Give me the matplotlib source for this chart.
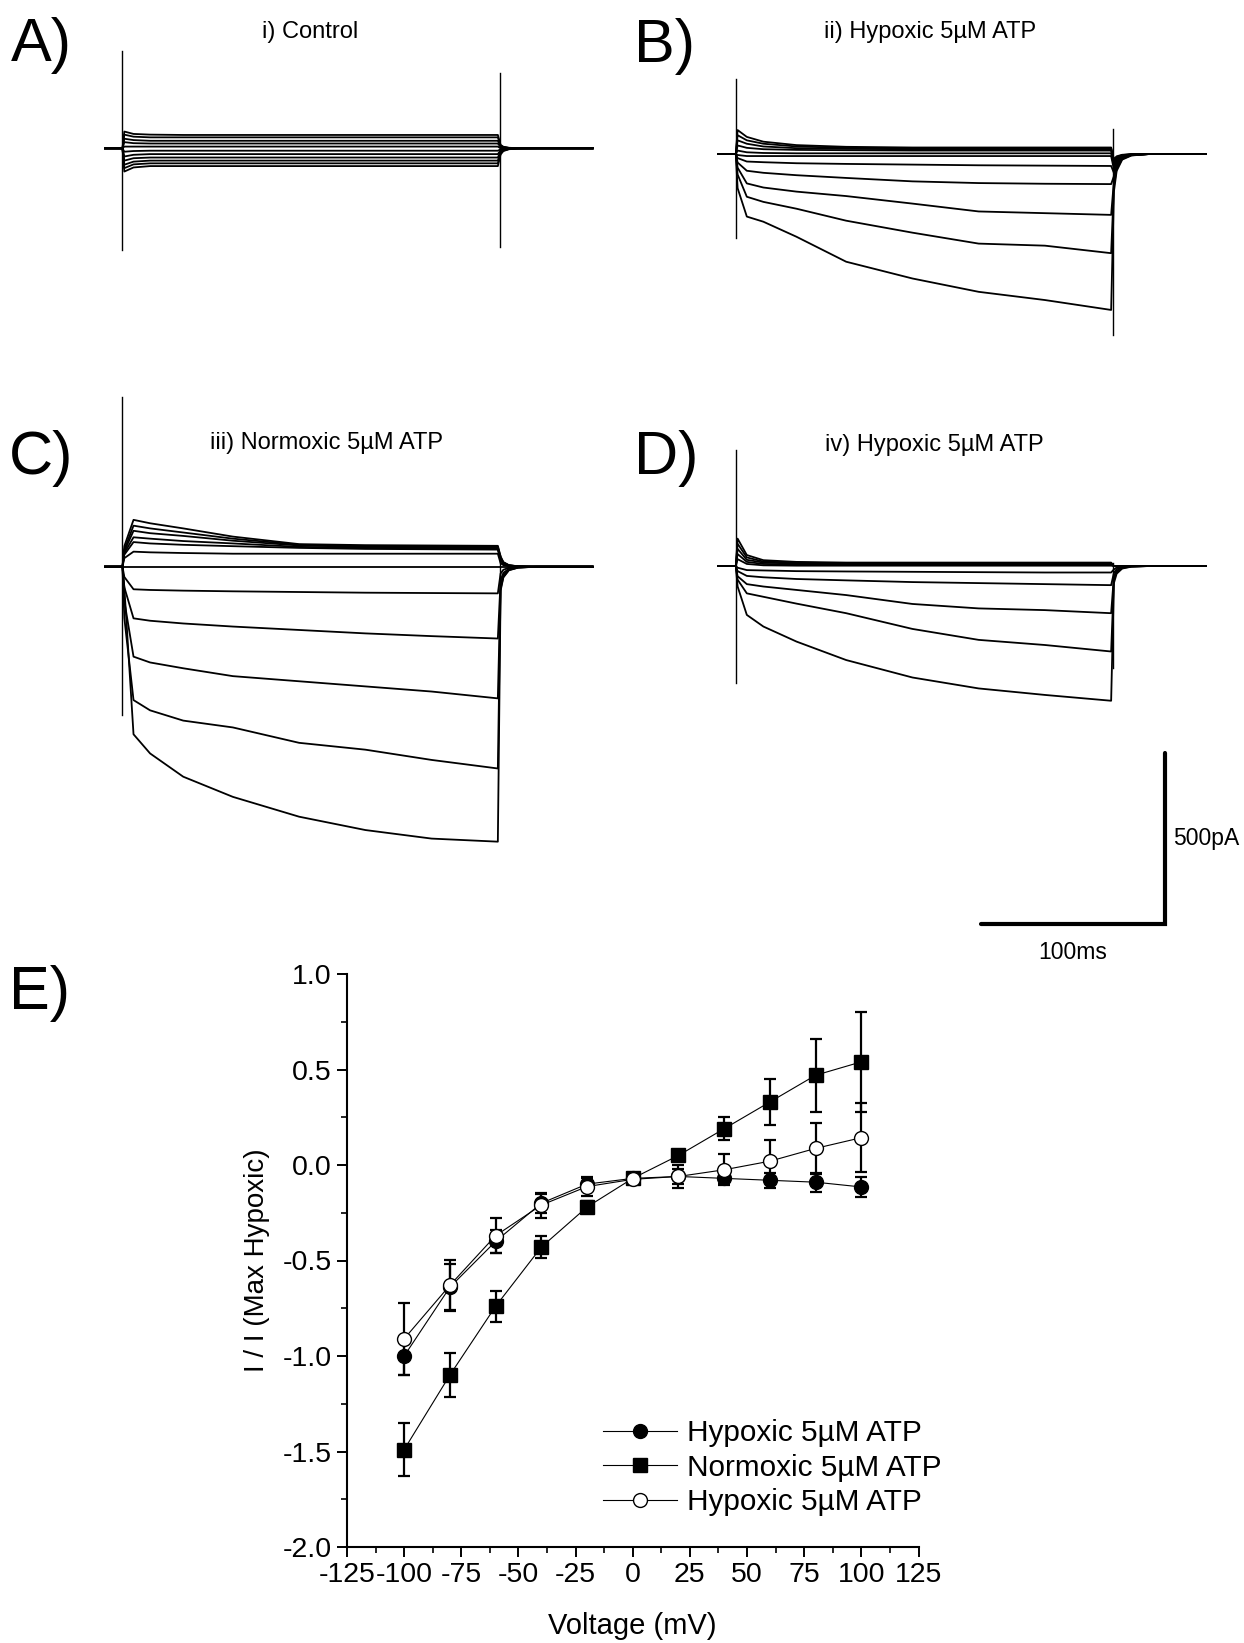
import matplotlib
matplotlib.use("Agg")
import matplotlib.pyplot as plt
from matplotlib.lines import Line2D

plt.rcParams['font.family'] = ['Liberation Sans', 'DejaVu Sans']
plt.rcParams['axes.unicode_minus'] = False

W, H = 1244, 1643  # figure size in pixels (dpi 100)

# ---------------- voltage-clamp sweeps (ms, pA) ----------------
T_ON = 9.5      # pulse onset
T_OFF = 214.5   # pulse offset
T_END = 265.0   # end of sweep
T_PULSE = [1, 6, 15, 33, 60, 96, 132, 168, 204]   # sample times after onset
T_TAIL = [0.5, 2, 5, 10, 20]                       # sample times after offset
TAIL_SHAPE = [1.0, 0.45, 0.15, 0.04, 0.0]

CONTROL = [
    [49, 42, 40, 39, 39, 39, 39, 39, 39],
    [40, 34, 32, 32, 32, 32, 32, 32, 32],
    [28, 24, 22, 22, 22, 22, 22, 22, 22],
    [18, 15, 14, 14, 14, 14, 14, 14, 14],
    [5, 5, 5, 5, 5, 5, 5, 5, 5],
    [-10, -8, -7, -7, -7, -7, -7, -7, -7],
    [-24, -19, -17, -17, -17, -17, -17, -17, -17],
    [-36, -29, -27, -27, -27, -27, -27, -27, -27],
    [-48, -39, -36, -36, -36, -36, -36, -36, -36],
    [-58, -47, -44, -44, -44, -44, -44, -44, -44],
    [-68, -56, -52, -52, -52, -52, -52, -52, -52],
]
CONTROL_TAIL = [10, 8, 6, 4, 0, -3, -6, -9, -12, -15, -18]
CONTROL_SPIKES = [(285, -297), (221, -289)]

HYPOXIC_B = [
    [70, 50, 36, 26, 21, 19, 19, 19, 19],
    [55, 40, 30, 22, 18, 17, 17, 17, 17],
    [40, 30, 22, 17, 15, 14, 14, 14, 14],
    [25, 18, 14, 12, 11, 10, 10, 10, 10],
    [10, 5, 3, 2, 2, 2, 2, 2, 2],
    [-3, -6, -6, -6, -6, -6, -6, -6, -6],
    [-12, -22, -24, -27, -29, -31, -33, -34, -35],
    [-25, -49, -55, -62, -70, -80, -85, -87, -88],
    [-40, -86, -98, -110, -123, -145, -168, -173, -178],
    [-60, -125, -140, -160, -195, -230, -262, -268, -290],
    [-100, -183, -198, -242, -315, -364, -403, -427, -456],
]
HYPOXIC_B_TAIL = [-15, -20, -25, -30, -35, -45, -55, -65, -80, -95, -110]
HYPOXIC_B_SPIKES = [(219, -246), (73, -529)]

NORMOXIC_C = [
    [60, 137, 127, 112, 88, 66, 63, 62, 61],
    [50, 120, 112, 100, 82, 64, 60, 58, 58],
    [45, 105, 98, 90, 76, 62, 58, 56, 55],
    [40, 86, 82, 75, 68, 58, 55, 53, 52],
    [35, 72, 68, 64, 60, 55, 52, 51, 50],
    [25, 44, 42, 40, 38, 38, 38, 38, 38],
    [0, 0, 0, 0, 0, 0, 0, 0, 0],
    [-30, -66, -68, -70, -72, -74, -76, -77, -78],
    [-60, -151, -158, -166, -175, -185, -195, -203, -210],
    [-100, -263, -280, -297, -320, -335, -350, -365, -385],
    [-150, -390, -420, -450, -470, -515, -535, -565, -590],
    [-60, -490, -546, -614, -673, -731, -770, -795, -804],
]
NORMOXIC_C_TAIL = [30, 28, 25, 22, 18, 10, 0, -20, -40, -55, -65, -70]
NORMOXIC_C_SPIKES = [(497, -434), (34, -60)]

HYPOXIC_D = [
    [80, 32, 17, 12, 10, 10, 10, 10, 10],
    [65, 25, 13, 10, 8, 8, 8, 8, 8],
    [50, 18, 10, 7, 6, 6, 6, 6, 6],
    [35, 12, 6, 4, 4, 4, 4, 4, 4],
    [20, 6, 2, 1, 1, 1, 1, 1, 1],
    [-5, -12, -13, -15, -16, -17, -18, -19, -19],
    [-15, -29, -33, -38, -42, -47, -50, -53, -56],
    [-30, -53, -60, -70, -85, -111, -124, -129, -138],
    [-40, -80, -90, -110, -138, -184, -216, -231, -250],
    [-60, -143, -177, -221, -275, -326, -358, -377, -394],
]
HYPOXIC_D_TAIL = [0, 0, 0, 0, 0, -10, -20, -30, -40, -50]
HYPOXIC_D_SPIKES = [(339, -343), (8, -299)]

SCALE_MS = 100
SCALE_PA = 500

# ---------------- I/V relationship ----------------
VOLTAGE = [-100, -80, -60, -40, -20, 0, 20, 40, 60, 80, 100]
HYP = [-1.00, -0.64, -0.40, -0.20, -0.10, -0.07, -0.06, -0.07, -0.08, -0.09, -0.115]
HYP_ERR = [0.10, 0.12, 0.06, 0.05, 0.03, 0.02, 0.04, 0.03, 0.04, 0.05, 0.05]
NORM = [-1.49, -1.10, -0.74, -0.43, -0.22, -0.07, 0.05, 0.19, 0.33, 0.47, 0.54]
NORM_ERR = [0.137, 0.115, 0.08, 0.057, 0.03, 0.02, 0.02, 0.06, 0.12, 0.19, 0.26]
HYP2 = [-0.91, -0.63, -0.37, -0.21, -0.113, -0.075, -0.06, -0.025, 0.02, 0.087, 0.143]
HYP2_ERR = [0.19, 0.135, 0.09, 0.065, 0.05, 0.025, 0.06, 0.08, 0.11, 0.135, 0.18]
LABELS = ['Hypoxic 5\u00b5M ATP', 'Normoxic 5\u00b5M ATP', 'Hypoxic 5\u00b5M ATP']

PX_PER_MS = 184 / SCALE_MS
PX_PER_PA = 171 / SCALE_PA


def trace_axes(fig, x0, y0):
    """axes with sweep start at pixel x0 and zero current at pixel y0"""
    left, right = x0 - 20, x0 + 520
    top, bottom = y0 - 200, y0 + 300
    ax = fig.add_axes([left / W, 1 - bottom / H, (right - left) / W, (bottom - top) / H])
    ax.set_xlim(-20 / PX_PER_MS, 520 / PX_PER_MS)
    ax.set_ylim(-300 / PX_PER_PA, 200 / PX_PER_PA)
    ax.axis('off')
    return ax


def draw_sweeps(ax, traces, tails, spikes):
    for tr, tail in zip(traces, tails):
        t = [0, T_ON] + [T_ON + s for s in T_PULSE] + [T_OFF + s for s in T_TAIL] + [T_END]
        i = [0, 0] + tr + [tail * f for f in TAIL_SHAPE] + [0]
        ax.plot(t, i, color='k', lw=1.3, clip_on=False)
    for t, (hi, lo) in zip([T_ON, T_OFF], spikes):
        ax.plot([t, t], [hi, lo], color='k', lw=1.0, clip_on=False)


fig = plt.figure(figsize=(W / 100, H / 100), dpi=100)

panels = [
    (105, 148.3, CONTROL, CONTROL_TAIL, CONTROL_SPIKES),
    (718.3, 154, HYPOXIC_B, HYPOXIC_B_TAIL, HYPOXIC_B_SPIKES),
    (105, 566.7, NORMOXIC_C, NORMOXIC_C_TAIL, NORMOXIC_C_SPIKES),
    (718.3, 566, HYPOXIC_D, HYPOXIC_D_TAIL, HYPOXIC_D_SPIKES),
]
for x0, y0, tr, tails, spikes in panels:
    ax = trace_axes(fig, x0, y0)
    draw_sweeps(ax, tr, tails, spikes)

# panel titles and letters
titles = [('i) Control', 310, 38), ('ii) Hypoxic 5\u00b5M ATP', 930, 38),
          ('iii) Normoxic 5\u00b5M ATP', 327, 449), ('iv) Hypoxic 5\u00b5M ATP', 934, 451)]
for s, x, y in titles:
    fig.text(x / W, 1 - y / H, s, ha='center', va='baseline', fontsize=17)

letters = [('A)', 11, 61), ('B)', 634, 62), ('C)', 9, 474), ('D)', 634, 474), ('E)', 9, 1009)]
for s, x, y in letters:
    fig.text(x / W, 1 - y / H, s, ha='left', va='baseline', fontsize=44)

# scale bar
sb = fig.add_axes([981 / W, 1 - 924 / H, 184 / W, 171.3 / H])
sb.set_xlim(0, SCALE_MS)
sb.set_ylim(0, SCALE_PA)
sb.axis('off')
sb.plot([0, SCALE_MS, SCALE_MS], [0, 0, SCALE_PA], color='k', lw=3, clip_on=False,
        solid_capstyle='round', solid_joinstyle='miter')
sb.annotate(f'{SCALE_PA}pA', (SCALE_MS, SCALE_PA / 2), xytext=(6, 0), textcoords='offset points',
            ha='left', va='center', fontsize=16.5)
sb.annotate(f'{SCALE_MS}ms', (SCALE_MS / 2, 0), xytext=(0, -12), textcoords='offset points',
            ha='center', va='top', fontsize=16.5)

# ---------------- panel E ----------------
ax = fig.add_axes([347 / W, 1 - 1547 / H, 571.5 / W, 573 / H])
series = [(HYP, HYP_ERR, 'o', 'k'), (NORM, NORM_ERR, 's', 'k'), (HYP2, HYP2_ERR, 'o', 'white')]
handles = []
for k, (y, err, m, fc) in enumerate(series):
    ax.errorbar(VOLTAGE, y, yerr=err, fmt='none', ecolor='k', elinewidth=1.6,
                capsize=4.5, capthick=1.6, zorder=2 + k)
    ax.plot(VOLTAGE, y, '-', color='k', lw=0.8, zorder=2 + k)
    ax.plot(VOLTAGE, y, m, ms=10 if m == 'o' else 9.5, mfc=fc, mec='k', mew=1.0,
            ls='none', zorder=5 + k)
    handles.append(Line2D([], [], color='k', lw=0.8, marker=m, ms=10 if m == 'o' else 9.5,
                          mfc=fc, mec='k', mew=1.0))

ax.set_xlim(-125, 125)
ax.set_ylim(-2.0, 1.0)
ax.set_xticks(range(-125, 126, 25))
ax.set_xticks([v + 12.5 for v in range(-125, 125, 25)], minor=True)
ax.set_yticks([-2.0, -1.5, -1.0, -0.5, 0.0, 0.5, 1.0])
ax.set_yticks([-1.75, -1.25, -0.75, -0.25, 0.25, 0.75], minor=True)
ax.set_yticklabels([f'{v:.1f}' for v in [-2.0, -1.5, -1.0, -0.5, 0.0, 0.5, 1.0]])
for side in ['top', 'right']:
    ax.spines[side].set_visible(False)
for side in ['left', 'bottom']:
    ax.spines[side].set_linewidth(1.5)
ax.tick_params(which='major', direction='out', length=7, width=1.4, labelsize=20.5, pad=4)
ax.tick_params(which='minor', direction='out', length=4, width=1.2)
ax.set_xlabel('Voltage (mV)', fontsize=21)
ax.set_ylabel('I / I (Max Hypoxic)', fontsize=20)
ax.xaxis.set_label_coords(0.5, -0.113)
ax.yaxis.set_label_coords(-0.135, 0.5)

fig.legend(handles, LABELS, loc='upper left', bbox_to_anchor=(603 / W, 1 - 1419 / H),
           frameon=False, fontsize=21.4, handlelength=2.5, handletextpad=0.33,
           labelspacing=0.22, borderpad=0, borderaxespad=0, numpoints=1)

fig.savefig('out.png', dpi=100)
